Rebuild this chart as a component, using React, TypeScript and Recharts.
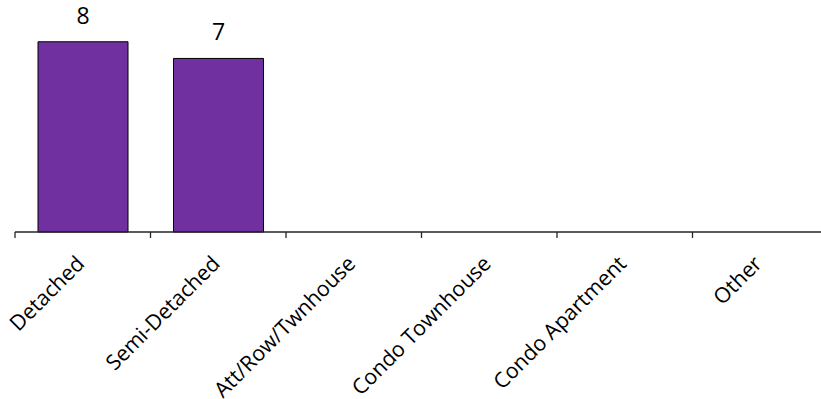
import { BarChart, Bar, XAxis, YAxis, LabelList } from 'recharts'

// categories + values (labels are shown rounded)
const categories = [
  'Detached',
  'Semi-Detached',
  'Att/Row/Twnhouse',
  'Condo Townhouse',
  'Condo Apartment',
  'Other',
]
const values = [8.0, 7.3, 0, 0, 0, 0]

// the boundary axis spans the row indexes 0..n-1, so the n+1 category
// boundaries land at k * (n-1)/n on it
const n = categories.length
const boundaryTicks = Array.from({ length: n + 1 }, (_, k) => (k * (n - 1)) / n)

const FONT = '"Open Sans", "Noto Sans", sans-serif'

const data = categories.map((name, i) => ({ name, value: values[i] }))

// eslint-disable-next-line @typescript-eslint/no-explicit-any
function CategoryTick({ x, y, payload }: any) {
  const tx = x + 3
  const ty = y + 32
  return (
    <text
      x={tx}
      y={ty}
      transform={`rotate(-45, ${tx}, ${ty})`}
      textAnchor="end"
      fontFamily={FONT}
      fontSize={21.3}
      fill="#000"
    >
      {payload.value}
    </text>
  )
}

// boundary axis: tick lines only, no text
function NoLabel() {
  return <g />
}

export default function App() {
  return (
    <div
      style={{
        position: 'absolute',
        left: 0,
        top: 0,
        width: 821,
        height: 399,
        overflow: 'hidden',
        background: '#fff',
      }}
    >
      <BarChart
        width={828}
        height={399}
        data={data}
        margin={{ top: 18, right: 0, bottom: 0, left: 15 }}
        barCategoryGap={23}
      >
        <YAxis hide domain={[0, 9]} />
        {/* tick marks sit on the category boundaries */}
        <XAxis
          xAxisId="a-grid"
          type="number"
          domain={[0, n - 1]}
          allowDataOverflow
          ticks={boundaryTicks}
          interval={0}
          tick={<NoLabel />}
          tickSize={6}
          height={1}
          axisLine={{ stroke: '#262626', strokeWidth: 1.3 }}
          tickLine={{ stroke: '#262626', strokeWidth: 1.3 }}
        />
        <XAxis
          xAxisId="b-cat"
          dataKey="name"
          axisLine={false}
          tickLine={false}
          tickSize={0}
          tickMargin={0}
          height={166}
          interval={0}
          tick={<CategoryTick />}
        />
        <Bar
          xAxisId="b-cat"
          dataKey="value"
          fill="#7030A0"
          stroke="#000"
          strokeWidth={1}
          isAnimationActive={false}
        >
          <LabelList
            dataKey="value"
            position="top"
            offset={18}
            formatter={(v: number) => (v > 0 ? Math.round(v) : '')}
            style={{ fontFamily: FONT, fontSize: 23, fill: '#000' }}
          />
        </Bar>
      </BarChart>
    </div>
  )
}
